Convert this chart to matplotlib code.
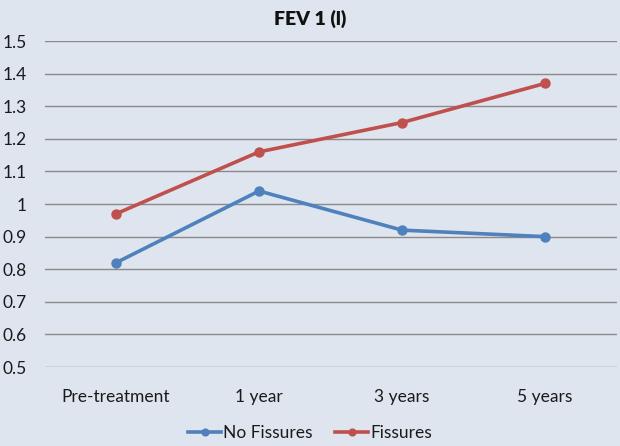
import matplotlib.pyplot as plt

categories = ['Pre-treatment', '1 year', '3 years', '5 years']
no_fissures = [0.82, 1.04, 0.92, 0.90]
fissures = [0.97, 1.16, 1.25, 1.37]
yticks = [0.5, 0.6, 0.7, 0.8, 0.9, 1.0, 1.1, 1.2, 1.3, 1.4, 1.5]
ytick_labels = ['0.5', '0.6', '0.7', '0.8', '0.9', '1', '1.1', '1.2', '1.3', '1.4', '1.5']

plt.rcParams['font.family'] = ['Lato', 'DejaVu Sans']
bg = '#dfe5ef'

fig = plt.figure(figsize=(6.2, 4.46), dpi=100, facecolor=bg)
ax = fig.add_axes([0.0718, 0.177, 0.9226, 0.731], facecolor=bg)

x = range(len(categories))
ax.plot(x, no_fissures, color='#4f81bd', lw=2.6, marker='o', ms=6.5, label='No Fissures')
ax.plot(x, fissures, color='#c0504d', lw=2.6, marker='o', ms=6.5, label='Fissures')

ax.set_xlim(-0.5, len(categories) - 0.5)
ax.set_ylim(0.5, 1.5)
ax.set_yticks(yticks)
ax.set_yticklabels(ytick_labels)
ax.set_xticks(list(x))
ax.set_xticklabels(categories)
ax.yaxis.grid(True, color='#8a8a8a', lw=1)
ax.set_axisbelow(True)
for s in ax.spines.values():
    s.set_visible(False)
ax.tick_params(axis='both', length=0, labelsize=12.5, colors='#1a1a1a')
ax.tick_params(axis='y', pad=13)
ax.tick_params(axis='x', pad=16)

fig.text(0.5, 0.958, 'FEV 1 (l)', ha='center', va='center', fontsize=14, fontweight='heavy', color='#111111')
leg = fig.legend(loc='center', bbox_to_anchor=(0.5, 0.03), ncol=2, frameon=False, fontsize=12.5,
                 handlelength=1.9, columnspacing=1.3, handletextpad=0.1, markerscale=0.75)
for t in leg.get_texts():
    t.set_color('#1a1a1a')

plt.savefig('out.png', facecolor=bg)
plt.close()
